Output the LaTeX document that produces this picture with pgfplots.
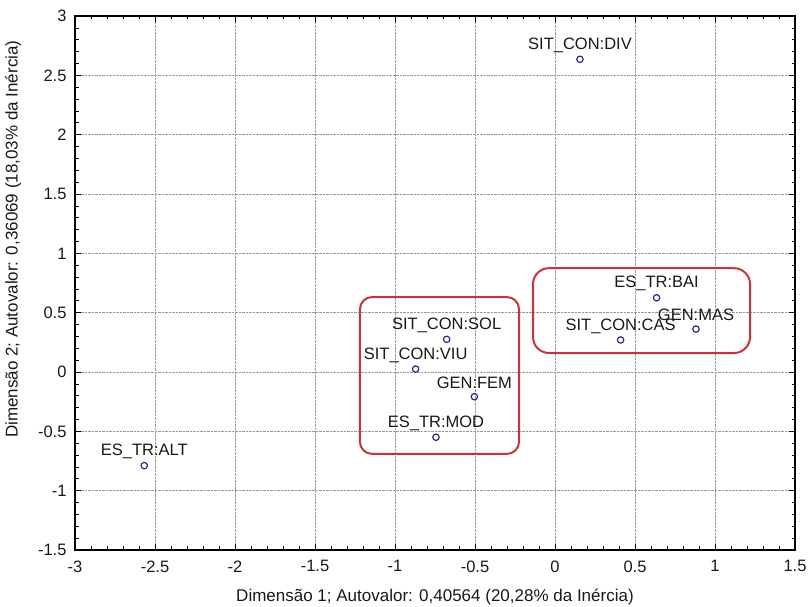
\documentclass[border=0pt]{standalone}
\usepackage{pgfplots}
\pgfplotsset{compat=1.18}
\usepackage{fontspec}
\setmainfont{Liberation Sans}
\definecolor{markcol}{RGB}{40,40,150}
\definecolor{boxred}{RGB}{205,50,60}
\definecolor{txt}{RGB}{25,25,25}
\begin{document}
\begin{tikzpicture}[x=1pt,y=1pt]
\useasboundingbox (0,0) rectangle (808,607);
\begin{axis}[
  at={(75pt,57pt)}, anchor=south west,
  scale only axis, width=720pt, height=534pt,
  xmin=-3, xmax=1.5, ymin=-1.5, ymax=3,
  xtick={-3,-2.5,...,1.5}, ytick={-1.5,-1,...,3},
  minor tick num=4,
  tick align=inside, tick pos=both,
  major tick length=6pt, minor tick length=3.5pt,
  tick style={black, line width=0.7pt},
  axis line style={black, line width=1.2pt},
  grid=major,
  major grid style={densely dotted, gray!80, line width=0.7pt},
  font=\fontsize{16.5}{19}\selectfont,
  /pgf/number format/assume math mode=true,
  /pgf/number format/fixed,
  xticklabel style={yshift=-7pt, text=txt},
  yticklabel style={xshift=-5pt, text=txt},
  xlabel={Dimensão 1; Autovalor: 0,40564 (20,28\% da Inércia)},
  ylabel={Dimensão 2; Autovalor: 0,36069 (18,03\% da Inércia)},
  xlabel style={at={(axis description cs:0.5,-0.088)}, anchor=center, text=txt, font=\fontsize{17}{19}\selectfont},
  ylabel style={at={(axis description cs:-0.086,0.582)}, anchor=center, text=txt, font=\fontsize{17}{19}\selectfont},
  clip=false,
]
\addplot[only marks, mark=o, mark size=3.2pt, mark options={draw=markcol, fill=white, line width=1.2pt},
  point meta=explicit symbolic,
  nodes near coords,
  every node near coord/.append style={anchor=center, yshift=14pt, text=txt, font=\fontsize{16.5}{19}\selectfont},
] coordinates {
  (0.156,2.635) [SIT\_CON:DIV]
  (0.635,0.625) [ES\_TR:BAI]
  (0.881,0.362) [GEN:MAS]
  (0.410,0.270) [SIT\_CON:CAS]
  (-0.677,0.275) [SIT\_CON:SOL]
  (-0.871,0.025) [SIT\_CON:VIU]
  (-0.504,-0.208) [GEN:FEM]
  (-0.744,-0.550) [ES\_TR:MOD]
  (-2.567,-0.789) [ES\_TR:ALT]
};
\draw[boxred, line width=2pt, rounded corners=12pt] (axis cs:-1.219,0.631) rectangle (axis cs:-0.225,-0.690);
\draw[boxred, line width=2pt, rounded corners=16pt] (axis cs:-0.1375,0.875) rectangle (axis cs:1.219,0.160);
\end{axis}
\end{tikzpicture}
\end{document}
